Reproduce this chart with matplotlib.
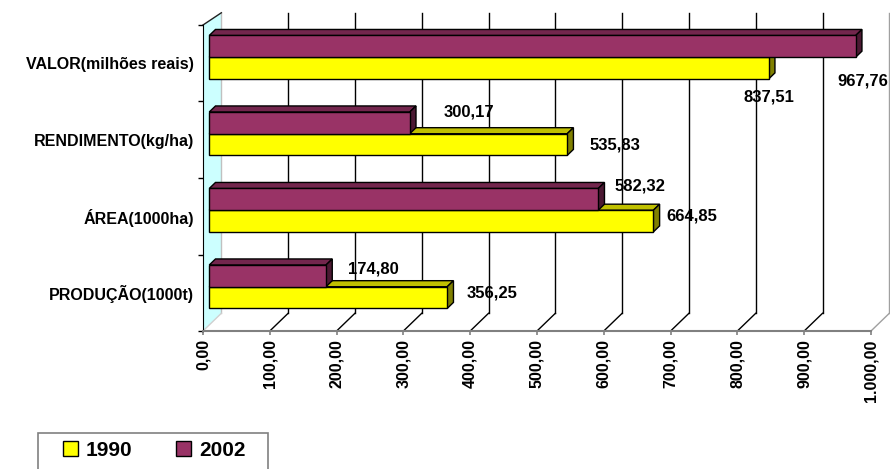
import matplotlib
matplotlib.use("Agg")
import matplotlib.pyplot as plt
from matplotlib.patches import Polygon, Patch, Rectangle

plt.rcParams['font.family'] = ['Liberation Sans', 'DejaVu Sans']
plt.rcParams['font.weight'] = 'bold'

# data
categories = ['PRODUÇÃO(1000t)', 'ÁREA(1000ha)', 'RENDIMENTO(kg/ha)', 'VALOR(milhões reais)']
values_1990 = [356.25, 664.85, 535.83, 837.51]
values_2002 = [174.80, 582.32, 300.17, 967.76]
series_names = ['1990', '2002']
x_ticks = [0, 100, 200, 300, 400, 500, 600, 700, 800, 900, 1000]

# look of the fake 3d (excel style) box
front_colors = ['#FFFF00', '#993366']
top_colors = ['#C0C000', '#73264D']
side_colors = ['#808000', '#4C1933']
DX, DY = 27.5, 0.232        # shift of the full depth, in data units
Z0, Z1 = 0.34, 0.68         # depth where bars start / end
BAR_H = 0.284
TOP_BACK = 3.66

# label offsets in pixels (dx, dy up), excel put them by hand
offsets_1990 = [(19, 5), (13, 5), (22, 0), (-25, -29)]
offsets_2002 = [(22, 7), (16, 13), (34, 11), (-18, -35)]


def br_number(v):
    s = f"{v:,.2f}"
    return s.replace(',', '#').replace('.', ',').replace('#', '.')


fig = plt.figure(figsize=(8.9, 4.69), dpi=100)
ax = fig.add_axes([203 / 890, (469 - 331) / 469, 668 / 890, 306 / 469])
ax.set_xlim(0, 1000)
ax.set_ylim(-0.5, 3.5)
ax.patch.set_visible(False)

# left wall
wall = Polygon([(0, -0.5), (DX, -0.5 + DY), (DX, TOP_BACK), (0, 3.5)],
               closed=True, facecolor='#CCFFFF', edgecolor='none',
               clip_on=False, zorder=0.5)
ax.add_patch(wall)
ax.plot([DX, DX], [-0.5 + DY, TOP_BACK], color='#C0C0C0', lw=1, clip_on=False, zorder=0.6)
ax.plot([0, DX], [3.5, TOP_BACK], color='#202020', lw=1, clip_on=False, zorder=0.6)
ax.plot([0, DX], [-0.5, -0.5 + DY], color='#D0D0D0', lw=1, clip_on=False, zorder=0.6)

# floor lines and back wall gridlines
for x in x_ticks[1:]:
    c = '#A0A0A0' if x == x_ticks[-1] else 'black'
    ax.plot([x, x + DX], [-0.5, -0.5 + DY], color=c, lw=1, clip_on=False, zorder=1)
    ax.plot([x + DX, x + DX], [-0.5 + DY, TOP_BACK], color=c, lw=1, clip_on=False, zorder=1)

# bars
dz = Z1 - Z0
x0 = Z0 * DX
for s, vals in enumerate([values_1990, values_2002]):
    for i, v in enumerate(vals):
        yc = i + Z0 * DY
        y_lo = yc - BAR_H if s == 0 else yc
        y_hi = y_lo + BAR_H
        x1 = x0 + v
        top = Polygon([(x0, y_hi), (x0 + dz * DX, y_hi + dz * DY),
                       (x1 + dz * DX, y_hi + dz * DY), (x1, y_hi)],
                      closed=True, facecolor=top_colors[s], edgecolor='black',
                      lw=1, clip_on=False, zorder=2 + s)
        side = Polygon([(x1, y_lo), (x1, y_hi), (x1 + dz * DX, y_hi + dz * DY),
                        (x1 + dz * DX, y_lo + dz * DY)],
                       closed=True, facecolor=side_colors[s], edgecolor='black',
                       lw=1, clip_on=False, zorder=2 + s)
        ax.add_patch(top)
        ax.add_patch(side)

ypos = [i + Z0 * DY for i in range(len(categories))]
ax.barh([y - BAR_H / 2 for y in ypos], values_1990, height=BAR_H, left=x0,
        color=front_colors[0], edgecolor='black', lw=1, zorder=4)
ax.barh([y + BAR_H / 2 for y in ypos], values_2002, height=BAR_H, left=x0,
        color=front_colors[1], edgecolor='black', lw=1, zorder=4)

# value labels
for s, (vals, offs) in enumerate([(values_1990, offsets_1990), (values_2002, offsets_2002)]):
    for i, v in enumerate(vals):
        yb = ypos[i] - BAR_H / 2 if s == 0 else ypos[i] + BAR_H / 2
        ax.annotate(br_number(v), xy=(x0 + v, yb), xytext=offs[i],
                    textcoords='offset pixels', ha='left', va='center',
                    fontsize=12, fontweight='bold', zorder=6)

# axes
for sp in ['top', 'right']:
    ax.spines[sp].set_visible(False)
ax.spines['left'].set_color('black')
ax.spines['bottom'].set_color('#808080')
ax.spines['bottom'].set_linewidth(1.5)

ax.set_yticks([-0.5, 0.5, 1.5, 2.5, 3.5])
ax.set_yticklabels([])
ax.set_yticks(range(len(categories)), minor=True)
ax.set_yticklabels(categories, minor=True, fontsize=11.5, fontweight='bold')
ax.tick_params(axis='y', which='major', length=3.6, width=1, color='black')
ax.tick_params(axis='y', which='minor', length=0, pad=6.5)

ax.set_xticks(x_ticks)
ax.set_xticklabels([br_number(t) for t in x_ticks], rotation=90,
                   fontsize=11.5, fontweight='bold')
ax.tick_params(axis='x', length=3, width=1.2, color='#808080', pad=3)

# legend, box runs past the bottom edge like in the original
fig.patches.append(Rectangle((38 / 890, -0.05), 230 / 890, 0.05 + (469 - 433) / 469,
                             transform=fig.transFigure, fill=False,
                             edgecolor='#808080', lw=1.2))
handles = [Patch(facecolor=front_colors[k], edgecolor='black', lw=1) for k in range(2)]
fig.legend(handles, series_names, loc='upper left',
           bbox_to_anchor=(63 / 890, 1 - 441 / 469), ncol=2, frameon=False,
           borderpad=0, borderaxespad=0, handlelength=0.72, handleheight=0.72,
           handletextpad=0.38, columnspacing=2.1,
           prop={'size': 15, 'weight': 'bold'})

fig.savefig('out.png', dpi=100)
